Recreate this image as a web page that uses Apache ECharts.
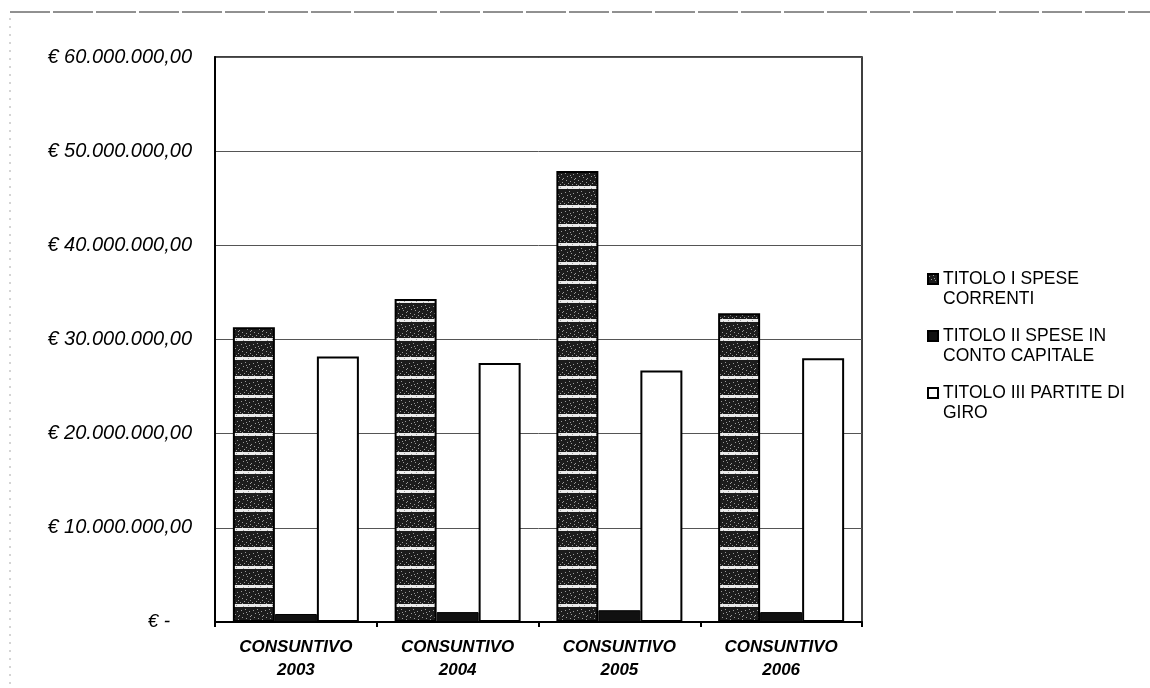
<!DOCTYPE html>
<html>
<head>
<meta charset="utf-8">
<style>
html,body{margin:0;padding:0;background:#fff;}
#chart{width:1150px;height:688px;}
</style>
<script src="https://cdn.jsdelivr.net/npm/echarts@6/dist/echarts.min.js"></script>
</head>
<body>
<div id="chart"></div>
<script>
// ---- data ----
const categories = ['CONSUNTIVO\n2003', 'CONSUNTIVO\n2004', 'CONSUNTIVO\n2005', 'CONSUNTIVO\n2006'];
const seriesNames = ['TITOLO I SPESE CORRENTI', 'TITOLO II SPESE IN CONTO CAPITALE', 'TITOLO III PARTITE DI GIRO'];
const legendLabels = ['TITOLO I SPESE\nCORRENTI', 'TITOLO II SPESE IN\nCONTO CAPITALE', 'TITOLO III PARTITE DI\nGIRO'];
const titoloI = [31300000, 34300000, 47900000, 32800000];
const titoloII = [850000, 1050000, 1250000, 1050000];
const titoloIII = [28200000, 27500000, 26700000, 28000000];
const yTicks = [0, 10000000, 20000000, 30000000, 40000000, 50000000, 60000000];

// ---- striped texture for Titolo I ----
function makePattern() {
  const c = document.createElement('canvas');
  c.width = 12; c.height = 19;
  const ctx = c.getContext('2d');
  ctx.fillStyle = '#1c1c1c';
  ctx.fillRect(0, 0, 12, 19);
  ctx.fillStyle = '#ececec';
  ctx.fillRect(0, 15, 12, 3);
  ctx.fillStyle = '#9a9a9a';
  const dots = [[1,2],[5,1],[9,3],[3,5],[7,6],[11,7],[2,9],[6,10],[10,11],[4,12],[8,13],[0,13],[6,4],[10,8],[2,14],[8,16],[3,17]];
  dots.forEach(d => ctx.fillRect(d[0], d[1], 1, 1));
  return c;
}
const pattern = makePattern();

function fmtIt(v) {
  const s = Math.round(v).toString().replace(/\B(?=(\d{3})+(?!\d))/g, '.');
  return '€ ' + s + ',00';
}

// legend icon: square aligned with the first text line
const legendIcon = 'path://M0,0L10,0L10,10L0,10Z M0,30L0.001,30';

const chart = echarts.init(document.getElementById('chart'), null, {renderer: 'canvas'});
chart.setOption({
  backgroundColor: '#fff',
  animation: false,
  textStyle: {fontFamily: 'Liberation Sans, Arial, sans-serif'},
  grid: {left: 215, right: 288, top: 57, bottom: 66, show: true, borderColor: '#000', borderWidth: 1.5, backgroundColor: 'transparent'},
  legend: {
    orient: 'vertical',
    left: 922,
    top: 264,
    itemWidth: 10,
    itemHeight: 30,
    itemGap: 17,
    icon: legendIcon,
    data: seriesNames,
    formatter: function (name) { return legendLabels[seriesNames.indexOf(name)]; },
    textStyle: {fontSize: 17.5, color: '#000', lineHeight: 20, fontFamily: 'Liberation Sans, Arial, sans-serif'}
  },
  xAxis: {
    type: 'category',
    data: categories,
    axisLine: {lineStyle: {color: '#000', width: 2}},
    axisTick: {show: true, length: 5, lineStyle: {color: '#000', width: 2}},
    axisLabel: {fontSize: 17, fontWeight: 'bold', fontStyle: 'italic', color: '#000', lineHeight: 23, margin: 14, interval: 0},
    splitLine: {show: false}
  },
  yAxis: {
    type: 'value',
    min: yTicks[0],
    max: yTicks[yTicks.length - 1],
    interval: yTicks[1] - yTicks[0],
    axisLine: {show: true, lineStyle: {color: '#000', width: 2}},
    axisTick: {show: false},
    splitLine: {lineStyle: {color: '#555', width: 1}},
    axisLabel: {
      margin: 23,
      fontSize: 20,
      fontStyle: 'italic',
      color: '#000',
      formatter: function (v) { return v === 0 ? '{z|€ -}' : fmtIt(v); },
      rich: {z: {fontSize: 19, fontStyle: 'italic', color: '#000', padding: [0, 22, 0, 0]}}
    }
  },
  series: [
    {
      name: seriesNames[0], type: 'bar', data: titoloI, barWidth: 42, barGap: '0%',
      itemStyle: {color: {image: pattern, repeat: 'repeat'}, borderColor: '#000', borderWidth: 2}
    },
    {
      name: seriesNames[1], type: 'bar', data: titoloII, barWidth: 42, barGap: '0%',
      itemStyle: {color: '#111', borderColor: '#000', borderWidth: 1}
    },
    {
      name: seriesNames[2], type: 'bar', data: titoloIII, barWidth: 42, barGap: '0%',
      itemStyle: {color: '#fff', borderColor: '#000', borderWidth: 2}
    }
  ],
  graphic: [
    {type: 'line', shape: {x1: 10, y1: 12, x2: 1150, y2: 12}, style: {stroke: '#222', lineWidth: 1, lineDash: [40, 3]}, silent: true},
    {type: 'line', shape: {x1: 10, y1: 18, x2: 10, y2: 688}, style: {stroke: '#aaa', lineWidth: 1, lineDash: [2, 6]}, silent: true}
  ]
});
</script>
</body>
</html>
